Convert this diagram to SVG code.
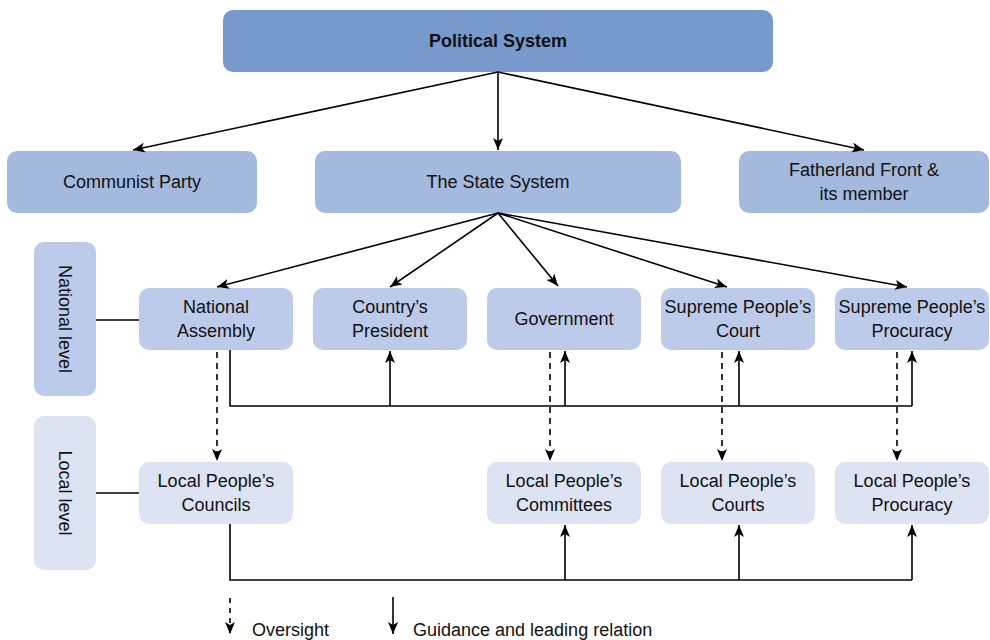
<svg xmlns="http://www.w3.org/2000/svg" width="990" height="640" viewBox="0 0 990 640">
<style>
text{font-family:"Liberation Sans",Arial,sans-serif;font-size:18px;fill:#111;text-anchor:middle}
.b{font-weight:bold}
.l0{fill:#7799cc}
.l1{fill:#a3b9dd}
.l2{fill:#bccbe9}
.l3{fill:#dce3f2}
.c{fill:none;stroke:#000;stroke-width:1.6}
.d{fill:none;stroke:#000;stroke-width:1.6;stroke-dasharray:6,5}
</style>
<defs>
<marker id="ah" viewBox="0 0 12 10" refX="12" refY="5" markerWidth="12" markerHeight="10" markerUnits="userSpaceOnUse" orient="auto">
<path d="M0,0 L12,5 L0,10 L3,5 z" fill="#000"/>
</marker>
</defs>
<g id="political-system"><rect class="l0" x="223" y="10" width="550" height="62" rx="10"/><text class="b" x="498" y="47">Political System</text></g>
<g id="communist-party"><rect class="l1" x="7" y="151" width="250" height="62" rx="10"/><text x="132" y="188">Communist Party</text></g>
<g id="state-system"><rect class="l1" x="315" y="151" width="366" height="62" rx="10"/><text x="498" y="188">The State System</text></g>
<g id="fatherland-front"><rect class="l1" x="739" y="151" width="250" height="62" rx="10"/><text x="864" y="176">Fatherland Front &amp;</text><text x="864" y="200">its member</text></g>
<g id="national-level"><rect class="l2" x="34" y="242" width="62" height="154" rx="10"/><text transform="translate(59,319) rotate(90)">National level</text></g>
<g id="local-level"><rect class="l3" x="34" y="416" width="62" height="154" rx="10"/><text transform="translate(59,493) rotate(90)">Local level</text></g>
<g id="national-assembly"><rect class="l2" x="139" y="288" width="154" height="62" rx="10"/><text x="216" y="313">National</text><text x="216" y="337">Assembly</text></g>
<g id="country-president"><rect class="l2" x="313" y="288" width="154" height="62" rx="10"/><text x="390" y="313">Country’s</text><text x="390" y="337">President</text></g>
<g id="government"><rect class="l2" x="487" y="288" width="154" height="62" rx="10"/><text x="564" y="325">Government</text></g>
<g id="supreme-court"><rect class="l2" x="661" y="288" width="154" height="62" rx="10"/><text x="738" y="313">Supreme People’s</text><text x="738" y="337">Court</text></g>
<g id="supreme-procuracy"><rect class="l2" x="835" y="288" width="154" height="62" rx="10"/><text x="912" y="313">Supreme People’s</text><text x="912" y="337">Procuracy</text></g>
<g id="local-councils"><rect class="l3" x="139" y="462" width="154" height="62" rx="10"/><text x="216" y="487">Local People’s</text><text x="216" y="511">Councils</text></g>
<g id="local-committees"><rect class="l3" x="487" y="462" width="154" height="62" rx="10"/><text x="564" y="487">Local People’s</text><text x="564" y="511">Committees</text></g>
<g id="local-courts"><rect class="l3" x="661" y="462" width="154" height="62" rx="10"/><text x="738" y="487">Local People’s</text><text x="738" y="511">Courts</text></g>
<g id="local-procuracy"><rect class="l3" x="835" y="462" width="154" height="62" rx="10"/><text x="912" y="487">Local People’s</text><text x="912" y="511">Procuracy</text></g>
<g id="connectors">
<path class="c" d="M498,72 L133,150" marker-end="url(#ah)"/>
<path class="c" d="M498,72 L498,150" marker-end="url(#ah)"/>
<path class="c" d="M498,72 L864,150" marker-end="url(#ah)"/>
<path class="c" d="M498,213 L217,287" marker-end="url(#ah)"/>
<path class="c" d="M498,213 L390,287" marker-end="url(#ah)"/>
<path class="c" d="M498,213 L558,286" marker-end="url(#ah)"/>
<path class="c" d="M498,213 L727,287" marker-end="url(#ah)"/>
<path class="c" d="M498,213 L907,287" marker-end="url(#ah)"/>
<path class="c" d="M96,320 L139,320"/>
<path class="c" d="M96,493 L139,493"/>
<path class="c" d="M230,350 L230,406 L912,406"/>
<path class="c" d="M390,406 L390,351" marker-end="url(#ah)"/>
<path class="c" d="M565,406 L565,351" marker-end="url(#ah)"/>
<path class="c" d="M739,406 L739,351" marker-end="url(#ah)"/>
<path class="c" d="M912,406 L912,351" marker-end="url(#ah)"/>
<path class="d" d="M217,352 L217,461" marker-end="url(#ah)"/>
<path class="d" d="M550,352 L550,461" marker-end="url(#ah)"/>
<path class="d" d="M722,352 L722,461" marker-end="url(#ah)"/>
<path class="d" d="M897,352 L897,461" marker-end="url(#ah)"/>
<path class="c" d="M230,524 L230,580 L912,580"/>
<path class="c" d="M565,580 L565,525" marker-end="url(#ah)"/>
<path class="c" d="M739,580 L739,525" marker-end="url(#ah)"/>
<path class="c" d="M912,580 L912,525" marker-end="url(#ah)"/>
</g>
<g id="legend">
<path class="d" d="M230,598 L230,634" marker-end="url(#ah)" style="stroke-dasharray:5,5"/>
<text x="252" y="636" style="text-anchor:start">Oversight</text>
<path class="c" d="M393,597 L393,634" marker-end="url(#ah)"/>
<text x="413" y="636" style="text-anchor:start">Guidance and leading relation</text>
</g>
</svg>
